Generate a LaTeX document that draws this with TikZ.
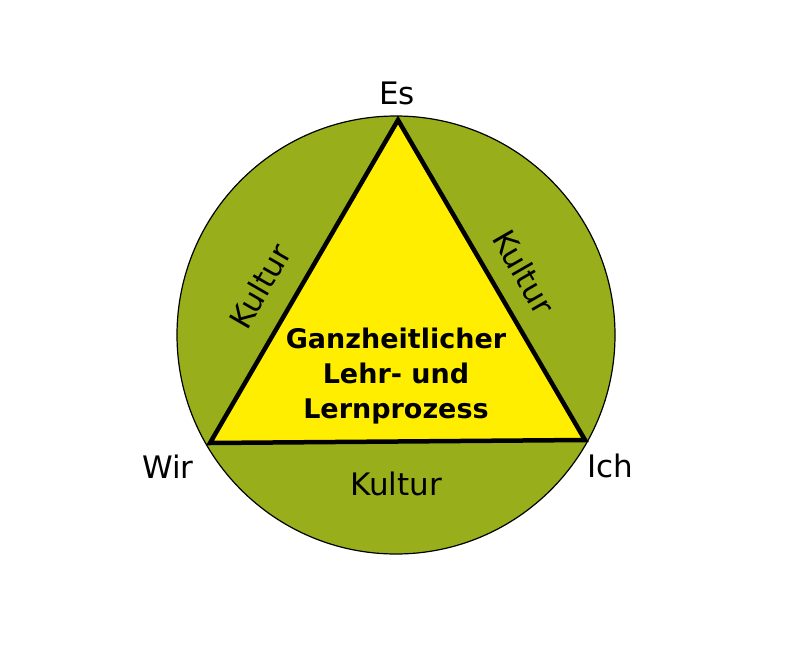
\documentclass[tikz,border=0pt]{standalone}
\usepackage{fontspec}
\setmainfont{DejaVu Sans}
\definecolor{olive}{HTML}{98AF1B}
\definecolor{yel}{HTML}{FFEE00}
\begin{document}
\begin{tikzpicture}[x=1pt,y=-1pt,
  lbl/.style={font=\fontsize{31}{36}\selectfont, inner sep=0pt}]
\useasboundingbox (0,0) rectangle (800,647);
\fill[white] (0,0) rectangle (800,647);
\node[circle, draw=black, line width=1.2pt, fill=olive, minimum size=438pt, inner sep=0pt] (c) at (396,335) {};
\coordinate (t) at (398,120);
\coordinate (l) at (210,443);
\coordinate (r) at (585,440);
\draw[line width=4.5pt, line join=miter, fill=yel] (t) -- (l) -- (r) -- cycle;
\node[lbl, rotate=60] (k1) at (260,286) {Kultur};
\node[lbl, rotate=-60] (k2) at (524,272) {Kultur};
\node[lbl] (k3) at (396,484) {Kultur};
\node[lbl] (es) at (397,93) {Es};
\node[lbl] (wir) at (168,467) {Wir};
\node[lbl] (ich) at (610,466) {Ich};
\node[align=center, font=\bfseries\fontsize{27}{35}\selectfont, inner sep=0pt] (m) at (396,376) {Ganzheitlicher\\Lehr- und\\Lernprozess};
\end{tikzpicture}
\end{document}
